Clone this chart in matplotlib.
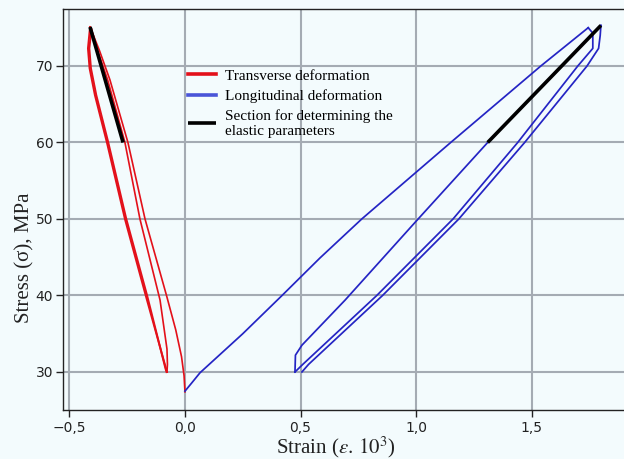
import numpy as np
import matplotlib
matplotlib.use('Agg')
import matplotlib.pyplot as plt
from matplotlib.ticker import FuncFormatter

# ---- data (strain x10^3, stress MPa)
# longitudinal (blue): load 1, unload 1, reload 2, unload 2
long_load1_x = [0.0, 0.03, 0.065, 0.25, 0.42, 0.584, 0.765, 1.15, 1.54, 1.745]
long_load1_y = [27.5, 28.6, 29.9, 35.0, 40.0, 44.9, 50.0, 60.0, 70.0, 75.0]
long_unload1_x = [1.745, 1.765, 1.765, 1.70, 1.44, 1.16, 0.83, 0.51, 0.476]
long_unload1_y = [75.0, 74.3, 72.3, 70.0, 60.0, 50.0, 40.0, 31.0, 30.0]
long_reload2_x = [0.476, 0.478, 0.506, 0.693, 1.0, 1.31, 1.80]
long_reload2_y = [30.0, 32.2, 33.5, 39.4, 49.7, 60.0, 75.3]
long_unload2_x = [1.80, 1.797, 1.79, 1.74, 1.47, 1.185, 0.855, 0.535, 0.506]
long_unload2_y = [75.3, 74.0, 72.3, 70.0, 60.0, 50.0, 40.0, 31.0, 30.0]

# transverse (red)
tr_load1_x = [0.0, -0.004, -0.015, -0.04, -0.08, -0.173, -0.247, -0.325, -0.37, -0.411]
tr_load1_y = [27.4, 29.5, 32.0, 35.5, 40.0, 50.0, 60.0, 68.2, 72.0, 75.1]
tr_unload1_x = [-0.411, -0.42, -0.413, -0.39, -0.338, -0.26, -0.17, -0.078]
tr_unload1_y = [75.1, 72.3, 69.7, 66.2, 60.0, 50.0, 40.0, 30.0]
tr_reload2_x = [-0.078, -0.076, -0.078, -0.108, -0.195, -0.26, -0.335, -0.378, -0.405]
tr_reload2_y = [30.0, 31.0, 33.0, 39.4, 50.0, 60.0, 68.2, 72.0, 74.8]
tr_unload2_x = [-0.405, -0.414, -0.407, -0.384, -0.332, -0.254, -0.164, -0.085, -0.08]
tr_unload2_y = [74.8, 72.3, 69.7, 66.2, 60.0, 50.0, 40.0, 30.5, 30.0]

# sections for elastic parameters (black)
sec_tr_x = [-0.268, -0.411]
sec_tr_y = [60.0, 75.1]
sec_long_x = [1.31, 1.80]
sec_long_y = [60.0, 75.3]

xticks = [-0.5, 0.0, 0.5, 1.0, 1.5]
yticks = [30, 40, 50, 60, 70]

red = '#e3101a'
blue = '#2424c4'
bg = '#f3fbfd'

plt.rcParams['mathtext.fontset'] = 'stix'

fig = plt.figure(figsize=(6.24, 4.59), dpi=100, facecolor=bg)
ax = fig.add_axes([63/624, 49/459, 561/624, 401/459])
ax.set_facecolor(bg)

ax.plot(tr_load1_x, tr_load1_y, color=red, lw=1.2)
ax.plot(tr_unload1_x, tr_unload1_y, color=red, lw=1.4)
ax.plot(tr_reload2_x, tr_reload2_y, color=red, lw=1.2)
ax.plot(tr_unload2_x, tr_unload2_y, color=red, lw=1.4, label='Transverse deformation')

ax.plot(long_load1_x, long_load1_y, color=blue, lw=1.25)
ax.plot(long_unload1_x, long_unload1_y, color=blue, lw=1.25)
ax.plot(long_reload2_x, long_reload2_y, color=blue, lw=1.25)
ax.plot(long_unload2_x, long_unload2_y, color=blue, lw=1.25, label='Longitudinal deformation')

ax.plot(sec_tr_x, sec_tr_y, color='black', lw=2.6, solid_capstyle='butt')
ax.plot(sec_long_x, sec_long_y, color='black', lw=2.6, solid_capstyle='butt',
        label='Section for determining the\nelastic parameters')

ax.set_xlim(-0.528, 1.90)
ax.set_ylim(25.03, 77.45)
ax.set_xticks(xticks)
ax.set_yticks(yticks)
ax.xaxis.set_major_formatter(FuncFormatter(lambda v, p: f'{v:.1f}'.replace('.', ',').replace('-', '\u2212')))
ax.grid(True, color='#a4abb3', lw=1.5)
ax.set_axisbelow(True)

ax.spines['right'].set_visible(False)
for s in ['left', 'bottom', 'top']:
    ax.spines[s].set_color('#222222')
    ax.spines[s].set_linewidth(1.0)
ax.tick_params(direction='out', length=5, width=1, color='#222222',
               labelsize=10, labelcolor='#222222', pad=2)
ax.tick_params(axis='x', pad=3)

ax.set_xlabel('Strain ($\\varepsilon.\\,10^3$)', family='Liberation Serif', fontsize=15, color='#222222')
ax.set_ylabel('Stress (\u03c3), MPa', family='Liberation Serif', fontsize=15, color='#222222')
ax.xaxis.set_label_coords(0.4866, -0.062)
ax.yaxis.set_label_coords(-0.05, 0.379)

leg = ax.legend(loc='upper left', bbox_to_anchor=(188/624, 1 - 69/459),
                bbox_transform=fig.transFigure, frameon=False,
                prop={'family': 'Liberation Serif', 'size': 11},
                handlelength=1.8, handletextpad=0.65, labelspacing=0.42,
                borderpad=0, borderaxespad=0)
leg.get_lines()[1].set_color('#4a55d8')
for l in leg.get_lines():
    l.set_linewidth(2.6)

fig.savefig('out.png', dpi=100, facecolor=bg)
